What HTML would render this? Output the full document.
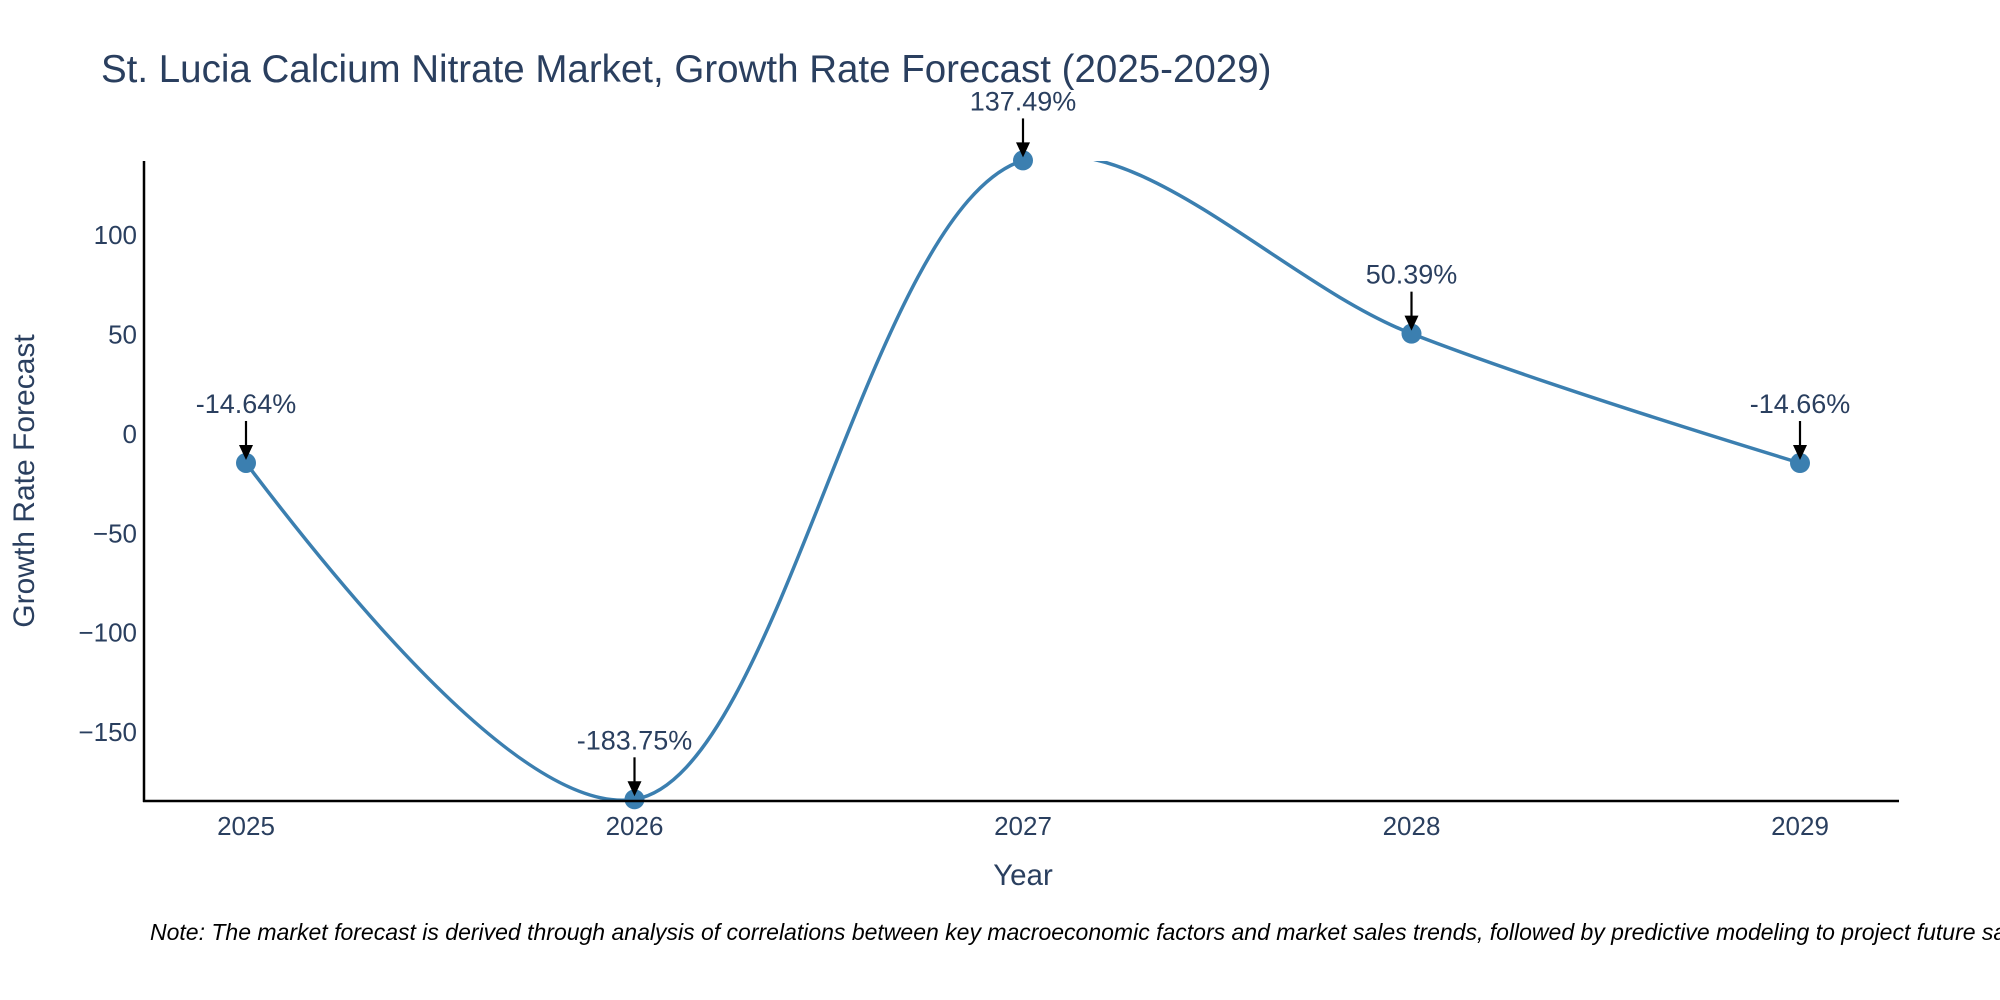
<!DOCTYPE html>
<html><head><meta charset="utf-8"><style>
html,body{margin:0;padding:0;background:#fff;}
svg{display:block;font-family:"Liberation Sans",sans-serif;}
</style></head><body>
<svg id="chart" width="2000" height="1000" viewBox="0 0 2000 1000" xmlns="http://www.w3.org/2000/svg">
<rect width="2000" height="1000" fill="#fff"/>
<text x="101" y="82" font-size="38.5" fill="#2a3f5f">St. Lucia Calcium Nitrate Market, Growth Rate Forecast (2025-2029)</text>
<defs><clipPath id="plotclip"><rect x="144" y="161" width="1755" height="640"/></clipPath></defs>
<g id="yticks"></g>
<g id="xticks"></g>
<g clip-path="url(#plotclip)"><path id="line" fill="none" stroke="#3b7fb0" stroke-width="3.5"/></g>
<g id="markers"></g>
<g id="annots"></g>
<line x1="144" y1="161" x2="144" y2="802" stroke="#000" stroke-width="2.5"/>
<line x1="143" y1="801" x2="1899" y2="801" stroke="#000" stroke-width="2.5"/>
<text x="1023" y="885" font-size="29.5" fill="#2a3f5f" text-anchor="middle">Year</text>
<text transform="translate(34,481) rotate(-90)" font-size="30" fill="#2a3f5f" text-anchor="middle">Growth Rate Forecast</text>
<text x="150" y="940" font-size="23" font-style="italic" fill="#000">Note: The market forecast is derived through analysis of correlations between key macroeconomic factors and market sales trends, followed by predictive modeling to project future sales.</text>
</svg>
<script>
const years = [2025, 2026, 2027, 2028, 2029];
const growth = [-14.64, -183.75, 137.49, 50.39, -14.66];
const labels = ["-14.64%", "-183.75%", "137.49%", "50.39%", "-14.66%"];
const yTicks = [-150, -100, -50, 0, 50, 100];
const yTickLabels = ["\u2212150", "\u2212100", "\u221250", "0", "50", "100"];
const NS = "http://www.w3.org/2000/svg";
const X0 = 246, XSTEP = 388.5;
function xs(yr){ return X0 + (yr - years[0]) * XSTEP; }
const YMIN = -184.6, YMAX = 137.2, YB = 801, YT = 161;
function ys(v){ return YB - (v - YMIN) / (YMAX - YMIN) * (YB - YT); }
function mk(tag, attrs){ const e = document.createElementNS(NS, tag); for (const k in attrs) e.setAttribute(k, attrs[k]); return e; }
const yg = document.getElementById('yticks');
yTicks.forEach((v, i) => {
  const t = mk('text', {x: 137, y: ys(v) + 9, 'font-size': 26, fill: '#2a3f5f', 'text-anchor': 'end'});
  
  
  t.textContent = yTickLabels[i]; yg.appendChild(t);
});
const xg = document.getElementById('xticks');
years.forEach(yr => {
  const t = mk('text', {x: xs(yr), y: 835, 'font-size': 26, fill: '#2a3f5f', 'text-anchor': 'middle'});
  
  
  t.textContent = yr; xg.appendChild(t);
});
const pts = years.map((yr, i) => [xs(yr), ys(growth[i])]);
function makeTangent(a, b, c, sm) {
  const d1x = a[0]-b[0], d1y = a[1]-b[1], d2x = c[0]-b[0], d2y = c[1]-b[1];
  const d1a = Math.pow(d1x*d1x + d1y*d1y, 0.25), d2a = Math.pow(d2x*d2x + d2y*d2y, 0.25);
  const numx = (d2a*d2a*d1x - d1a*d1a*d2x) * sm, numy = (d2a*d2a*d1y - d1a*d1a*d2y) * sm;
  const den1 = 3*d2a*(d1a+d2a), den2 = 3*d1a*(d1a+d2a);
  return [[b[0] + numx/den1, b[1] + numy/den1], [b[0] - numx/den2, b[1] - numy/den2]];
}
const tg = [];
for (let i = 1; i < pts.length - 1; i++) tg.push(makeTangent(pts[i-1], pts[i], pts[i+1], 1));
let d = `M${pts[0]} Q${tg[0][0]} ${pts[1]}`;
for (let i = 2; i < pts.length - 1; i++) d += ` C${tg[i-2][1]} ${tg[i-1][0]} ${pts[i]}`;
d += ` Q${tg[pts.length-3][1]} ${pts[pts.length-1]}`;
document.getElementById('line').setAttribute('d', d);
const mg = document.getElementById('markers'), ag = document.getElementById('annots');
pts.forEach((p, i) => {
  const c = mk('circle', {cx: p[0], cy: p[1], r: 10, fill: '#3b7fb0'});
  
  
  mg.appendChild(c);
  const l = mk('line', {x1: p[0], y1: p[1] - 42, x2: p[0], y2: p[1] - 14, stroke: '#000', 'stroke-width': 2.2});
  
  
  ag.appendChild(l);
  const h = mk('path', {d: `M${p[0]-7},${p[1]-18} L${p[0]+7},${p[1]-18} L${p[0]},${p[1]-3} Z`, fill: '#000'});
  
  
  ag.appendChild(h);
  const t = mk('text', {x: p[0], y: p[1] - 50, 'font-size': 27, fill: '#2a3f5f', 'text-anchor': 'middle'});
  
  
  t.textContent = labels[i]; ag.appendChild(t);
});
</script>
</body></html>
